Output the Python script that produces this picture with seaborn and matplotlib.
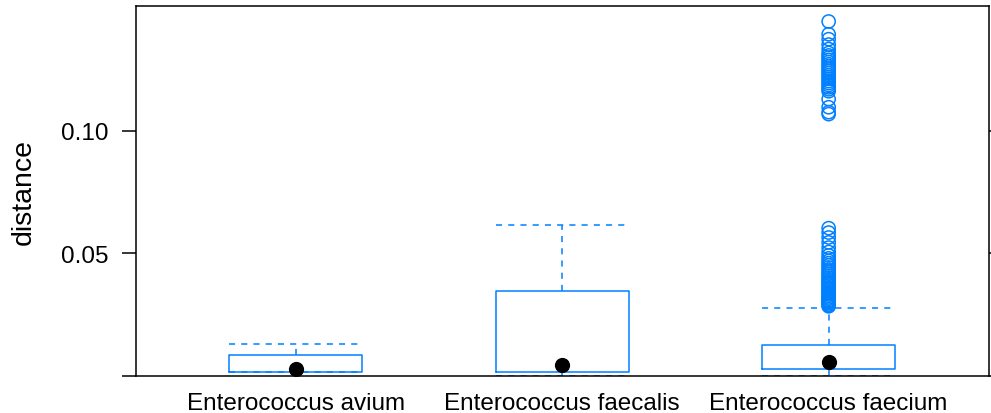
import numpy as np
import pandas as pd
import matplotlib
matplotlib.use("Agg")
import matplotlib.pyplot as plt
import seaborn as sns

# ===========================
# DATA (read off the reference bwplot)
# ===========================
species = ["Enterococcus avium", "Enterococcus faecalis", "Enterococcus faecium"]

# box summary per species: lower whisker, Q1, median, Q3, upper whisker
whisker_low = [0.0018, 0.0000, 0.0000]
q1 = [0.0018, 0.0016, 0.0031]
median = [0.0030, 0.0047, 0.0059]
q3 = [0.0088, 0.0348, 0.0126]
whisker_high = [0.0133, 0.0617, 0.0279]

# outliers only exist for E. faecium
faecium_outliers = [
    0.0285, 0.0288, 0.0292, 0.0297, 0.0301, 0.0306, 0.0310, 0.0316, 0.0321, 0.0327,
    0.0333, 0.0338, 0.0344, 0.0351, 0.0357, 0.0362, 0.0369, 0.0375, 0.0382, 0.0388,
    0.0395, 0.0402, 0.0410, 0.0418, 0.0426, 0.0434, 0.0443, 0.0452, 0.0461, 0.0470,
    0.0480, 0.0492, 0.0506, 0.0524, 0.0545, 0.0565, 0.0585, 0.0603,
    0.1067, 0.1075, 0.1095, 0.1128, 0.1160, 0.1168, 0.1176, 0.1185, 0.1193, 0.1201,
    0.1210, 0.1218, 0.1226, 0.1235, 0.1244, 0.1252, 0.1261, 0.1270, 0.1279, 0.1288,
    0.1297, 0.1306, 0.1316, 0.1332, 0.1350, 0.1372, 0.1392, 0.1444,
]

blue = "#0080ff"

# ===========================
# PLOT
# ===========================
sns.set_style("ticks")
plt.rcParams["font.family"] = ["Liberation Sans", "DejaVu Sans"]
plt.rcParams["text.color"] = "black"
plt.rcParams["axes.labelcolor"] = "black"
plt.rcParams["xtick.color"] = "black"
plt.rcParams["ytick.color"] = "black"

fig = plt.figure(figsize=(9.91, 4.14), dpi=100)
ax = fig.add_axes([0.1372, 0.0886, 0.8603, 0.8933])

stats = []
for i, name in enumerate(species):
    stats.append({
        "label": name,
        "whislo": whisker_low[i],
        "q1": q1[i],
        "med": median[i],
        "q3": q3[i],
        "whishi": whisker_high[i],
        "fliers": [],
    })

positions = list(range(len(species)))
ax.bxp(stats, positions=positions, widths=0.5, capwidths=0.5, showfliers=False,
       boxprops=dict(color=blue, linewidth=1.1),
       whiskerprops=dict(color=blue, linewidth=1.1, linestyle=(0, (4, 4))),
       capprops=dict(color=blue, linewidth=1.1, linestyle=(0, (4, 4))),
       medianprops=dict(linewidth=0))

# outliers as open circles
out_df = pd.DataFrame({"pos": [2] * len(faecium_outliers), "distance": faecium_outliers})
sns.scatterplot(data=out_df, x="pos", y="distance", ax=ax, s=90,
                facecolor="none", edgecolor=blue, linewidth=1.1, zorder=3)

# medians as filled black dots
med_df = pd.DataFrame({"pos": positions, "distance": median})
sns.scatterplot(data=med_df, x="pos", y="distance", ax=ax, s=120,
                color="black", edgecolor="black", linewidth=0, zorder=4)

ax.set_xlim(-0.6, 2.6)
ax.set_ylim(0, 0.1505)
ax.set_xticks(positions)
ax.set_xticklabels(species, fontsize=17.5)
ax.set_yticks([0, 0.05, 0.10])
ax.set_yticklabels(["", "0.05", "0.10"], fontsize=17.5)
ax.tick_params(axis="x", length=0, pad=11)
ax.tick_params(axis="y", length=10, width=1.1, pad=10, right=True, direction="out")
ax.set_xlabel("")
ax.set_ylabel("distance", fontsize=20.5, labelpad=17)

for side in ["left", "right", "top", "bottom"]:
    ax.spines[side].set_visible(True)
    ax.spines[side].set_linewidth(1.1)
    ax.spines[side].set_color("black")

fig.savefig("out.png", dpi=100)
